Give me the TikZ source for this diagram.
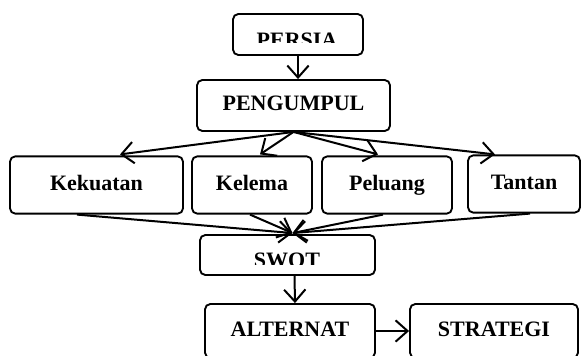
\documentclass[tikz,border=0pt]{standalone}
\usepackage{fontspec}
\setmainfont{Liberation Serif}
\usepackage{tikz}
\usetikzlibrary{arrows.meta,positioning,calc}

\tikzset{
    box/.style={draw, rounded corners=4pt, inner sep=0pt, line width=1.4pt,
        text height=11.5pt, text depth=3.5pt,
        font=\fontsize{16.5}{18}\selectfont\bfseries},
    arr/.style={line width=1.5pt, -{Straight Barb[length=9pt,width=16pt,line width=1.5pt]}}
}

\begin{document}
\begin{tikzpicture}[x=0.75pt, y=-0.75pt]
    \useasboundingbox (0,0) rectangle (581,356);
    \clip (0,0) rectangle (581,356);

    % Nodes
    \node[box, minimum width=97.5pt, minimum height=30.75pt] (persia) at (298,34.5) {};
    \node[box, minimum width=144.75pt, minimum height=38.25pt] (pengumpul) at (293.5,105.5) {PENGUMPUL};

    \node[box, minimum width=129.75pt, minimum height=43pt] (kekuatan) at (96.5,185) {Kekuatan};
    \node[box, minimum width=90pt, minimum height=43pt] (kelema) at (252,185) {Kelema};
    \node[box, minimum width=97.5pt, minimum height=43pt] (peluang) at (387,185) {Peluang};
    \node[box, minimum width=84pt, minimum height=43pt] (tantan) at (524,184) {Tantan};

    \node[box, minimum width=131.25pt, minimum height=30pt] (swot) at (287.5,255) {};
    \node[box, minimum width=127.5pt, minimum height=40.5pt] (alternat) at (290,331) {ALTERNAT};
    \node[box, minimum width=126pt, minimum height=40.5pt] (strategi) at (494,331) {STRATEGI};

    % Cut-off titles
    \begin{scope}
        \clip (persia.north west) rectangle (363,43);
        \node[font=\fontsize{16.5}{18}\selectfont\bfseries] (persiatxt) at (297,40.5) {PERSIA};
    \end{scope}
    \begin{scope}
        \clip (swot.north west) rectangle (375,264);
        \node[font=\fontsize{16.5}{18}\selectfont\bfseries] (swottxt) at (287,260.5) {SWOT};
    \end{scope}

    % Arrows
    \draw[arr] (persia.south) -- (persia.south |- pengumpul.north);
    \draw[arr] (pengumpul.south) -- ($(kekuatan.north)+(23.5,-1)$);
    \draw[arr] (pengumpul.south) -- ($(kelema.north)+(8,-1)$);
    \draw[arr] (pengumpul.south) -- ($(peluang.north)+(-9,-1)$);
    \draw[arr] (pengumpul.south) -- ($(tantan.north)+(-29,0)$);

    \draw[arr] ($(kekuatan.south)+(-19.5,0)$) -- ($(swot.north)+(5,-1)$);
    \draw[arr] ($(kelema.south)+(-2,0)$) -- ($(swot.north)+(5,-1)$);
    \draw[arr] ($(peluang.south)+(-4,0)$) -- ($(swot.north)+(5,-1)$);
    \draw[arr] ($(tantan.south)+(6,0)$) -- ($(swot.north)+(5,-1)$);

    \draw[arr] ($(swot.south)+(7,0)$) -- ($(alternat.north)+(5,0)$);
    \draw[arr] (alternat.east) -- (strategi.west);
\end{tikzpicture}
\end{document}
